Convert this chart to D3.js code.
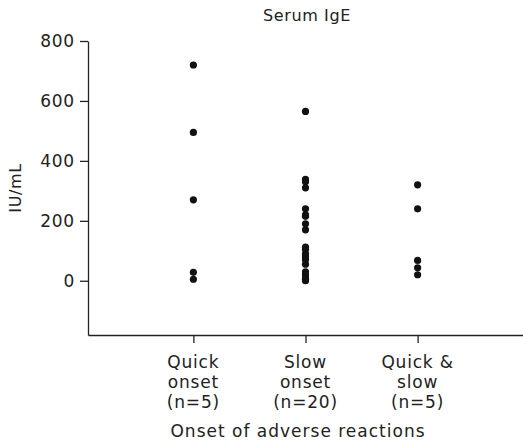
<!DOCTYPE html>
<html><head><meta charset="utf-8">
<script src="https://cdn.jsdelivr.net/npm/d3@7"></script>
<style>body{margin:0;background:#fff}svg{display:block}text{font-family:"DejaVu Sans",sans-serif;fill:#222}</style>
</head><body>
<script>
const categories = ["Quick onset", "Slow onset", "Quick & slow"];
const categoryLines = [["Quick","onset","(n=5)"],["Slow","onset","(n=20)"],["Quick &","slow","(n=5)"]];
const quickOnset = [720, 495, 270, 28, 5];
const slowOnset = [565, 338, 330, 310, 240, 220, 215, 190, 170, 112, 105, 90, 80, 70, 55, 30, 20, 10, 5, 0];
const quickSlow = [320, 240, 68, 43, 20];
const yTicks = [0, 200, 400, 600, 800];
const series = [quickOnset, slowOnset, quickSlow];

const W = 523, H = 441;
const svg = d3.select("body").append("svg").attr("width", W).attr("height", H);
const x = d3.scalePoint().domain(categories).range([88, 523]).padding(0.94);
const y = d3.scaleLinear().domain([-181, 800]).range([335, 41]);

svg.append("text").attr("x", 307).attr("y", 21).attr("text-anchor", "middle")
  .style("font-size", "16px").style("letter-spacing", "0.6px").text("Serum IgE");

const gy = svg.append("g").attr("transform", "translate(88,0)")
  .call(d3.axisLeft(y).tickValues(yTicks).tickSize(8).tickPadding(5).tickSizeOuter(0));
gy.select(".domain").attr("stroke", "#222").attr("stroke-width", 1.3);
gy.selectAll(".tick line").attr("stroke", "#222").attr("stroke-width", 1.3);
gy.selectAll(".tick text").style("font-size", "17px").style("letter-spacing", "0.8px")
  .style("font-family", "DejaVu Sans").attr("fill", "#222");

const gx = svg.append("g").attr("transform", "translate(0,335)")
  .call(d3.axisBottom(x).tickSize(8).tickSizeOuter(0).tickFormat(""));
gx.select(".domain").attr("stroke", "#222").attr("stroke-width", 1.3);
gx.selectAll(".tick line").attr("stroke", "#222").attr("stroke-width", 1.3);

categories.forEach((c, i) => {
  const t = svg.append("text").attr("text-anchor", "middle")
    .style("font-size", "17px").style("letter-spacing", "0.8px");
  categoryLines[i].forEach((ln, j) => {
    t.append("tspan").attr("x", x(c)).attr("y", 368 + j * 20).text(ln);
  });
});

svg.append("text").attr("x", 298).attr("y", 437).attr("text-anchor", "middle")
  .style("font-size", "17px").style("letter-spacing", "1px").text("Onset of adverse reactions");

svg.append("text").attr("transform", "translate(21,188) rotate(-90)")
  .attr("text-anchor", "middle").style("font-size", "16px").style("letter-spacing", "0.6px").text("IU/mL");

series.forEach((vals, i) => {
  svg.append("g").selectAll("circle").data(vals).join("circle")
    .attr("cx", x(categories[i])).attr("cy", d => y(d)).attr("r", 3.6).attr("fill", "#111");
});
</script>
</body></html>
